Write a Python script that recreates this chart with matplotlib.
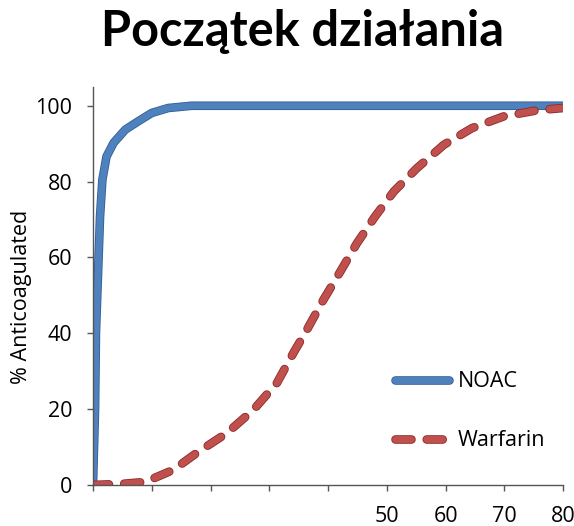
import matplotlib
matplotlib.use("Agg")
import matplotlib.pyplot as plt
import matplotlib.patheffects as pe

# ── Data ──────────────────────────────────────────────────────────────────────
noac_x = [0, 0.35, 0.5, 1.2, 1.6, 2.3, 3.5, 5.5, 7.7, 10, 12.8, 16.8, 30, 50, 80]
noac_y = [0, 20, 40, 70.8, 80.5, 86.6, 90.2, 93.7, 95.9, 98.1, 99.4, 100, 100, 100, 100]

warfarin_x = [0, 5, 8.9, 13.7, 17.6, 22.8, 27.3, 31.3, 34.1, 36.4, 39.2, 42.1,
              44.9, 48.0, 51.2, 55.1, 59.7, 64.5, 69.9, 75.6, 80]
warfarin_y = [0, 0.3, 0.8, 4, 8.4, 13.7, 19.8, 26.9, 34.8, 40.9, 48.8, 56.3,
              63.7, 70.8, 77.4, 83.5, 89.7, 94.1, 97.2, 98.8, 99.4]

x_ticks = [0, 10, 20, 30, 40, 50, 60, 70, 80]
x_tick_labels = ["", "", "", "", "", "50", "60", "70", "80"]
y_ticks = [0, 20, 40, 60, 80, 100]

title = "Początek działania"
y_label = "% Anticoagulated"
series_names = ["NOAC", "Warfarin"]

# ── Figure ────────────────────────────────────────────────────────────────────
plt.rcParams["font.family"] = ["Open Sans", "DejaVu Sans"]

fig = plt.figure(figsize=(5.74, 5.26), dpi=100)
ax = fig.add_axes([0.162, 0.078, 0.819, 0.757])

blue, blue_edge = "#4f81bd", "#2f5f96"
red, red_edge = "#c0504d", "#8c2a28"

ax.plot(noac_x, noac_y, color=blue, lw=5, solid_capstyle="round",
        solid_joinstyle="round", label=series_names[0],
        path_effects=[pe.Stroke(linewidth=6.2, foreground=blue_edge), pe.Normal()])
ax.plot(warfarin_x, warfarin_y, color=red, lw=5, dash_capstyle="round",
        dashes=(2.3, 2.2), label=series_names[1],
        path_effects=[pe.Stroke(linewidth=6.2, foreground=red_edge), pe.Normal()])

ax.set_xlim(0, 80)
ax.set_ylim(0, 105)
ax.set_xticks(x_ticks)
ax.set_xticklabels(x_tick_labels)
ax.set_yticks(y_ticks)

for side in ("top", "right"):
    ax.spines[side].set_visible(False)
for side in ("left", "bottom"):
    ax.spines[side].set_color("#555555")
    ax.spines[side].set_linewidth(1.0)

ax.tick_params(axis="both", direction="out", length=4, width=1.0,
               color="#555555", labelsize=15.5, labelcolor="black")
ax.tick_params(axis="y", pad=11)
ax.tick_params(axis="x", pad=11)

ax.set_ylabel(y_label, fontsize=15.5)
ax.yaxis.set_label_coords(-0.13, 0.472)
fig.text(0.527, 0.94, title, ha="center", va="center",
         fontsize=35, fontweight="bold", family=["Lato", "DejaVu Sans"])

ax.legend(loc="lower left", bbox_to_anchor=(0.643, 0.085), frameon=False,
          fontsize=15.5, handlelength=2.5, handletextpad=0.4,
          labelspacing=1.75, borderpad=0, borderaxespad=0)

fig.savefig("out.png", dpi=100)
